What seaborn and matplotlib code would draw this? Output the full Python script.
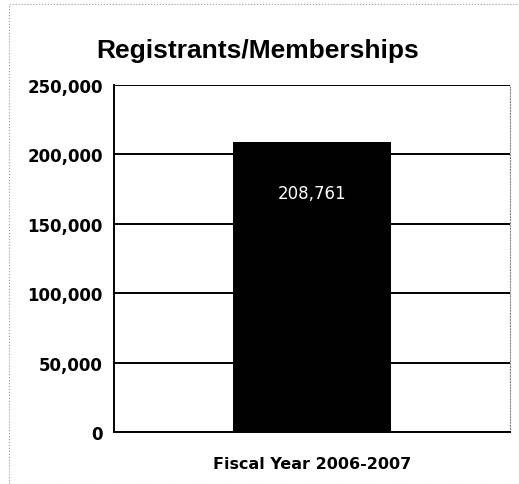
import matplotlib
matplotlib.use("Agg")
import matplotlib.pyplot as plt
import seaborn as sns
import pandas as pd
from matplotlib.patches import Rectangle
from matplotlib.ticker import FuncFormatter

categories = ["Fiscal Year 2006-2007"]
values = [208761]
bar_labels = ["208,761"]
yticks = [0, 50000, 100000, 150000, 200000, 250000]

df = pd.DataFrame({"category": categories, "value": values})

sns.set_style("white")
plt.rcParams["font.family"] = ["DejaVu Sans"]
plt.rcParams["text.color"] = "black"
plt.rcParams["xtick.color"] = "black"
plt.rcParams["ytick.color"] = "black"

fig = plt.figure(figsize=(5.19, 4.85), dpi=100)
ax = fig.add_axes([0.2197, 0.107, 0.763, 0.716])

sns.barplot(data=df, x="category", y="value", color="black", width=0.4,
            saturation=1, ax=ax, zorder=3, edgecolor="black", linewidth=0)

ax.set_ylim(0, 250000)
ax.set_yticks(yticks)
ax.yaxis.set_major_formatter(FuncFormatter(lambda v, p: f"{int(v):,}"))
for t in ax.get_yticklabels():
    t.set_fontweight("bold")
    t.set_fontsize(12)
    t.set_color("black")
ax.tick_params(axis="y", length=5, width=1.2, color="black", pad=3)
ax.tick_params(axis="x", length=0, pad=17)
for t in ax.get_xticklabels():
    t.set_fontweight("bold")
    t.set_fontsize(11.5)
    t.set_color("black")
ax.set_xlabel("")
ax.set_ylabel("")

ax.grid(axis="y", color="black", linewidth=1.4, zorder=0)
ax.set_axisbelow(True)

for side in ["left", "bottom"]:
    ax.spines[side].set_color("black")
    ax.spines[side].set_linewidth(1.4)
ax.spines["right"].set_color("#888888")
ax.spines["right"].set_linewidth(0.8)
ax.spines["right"].set_linestyle(":")
ax.spines["top"].set_visible(False)

for p, lab in zip(ax.patches, bar_labels):
    ax.text(p.get_x() + p.get_width() / 2, 172000, lab, color="white",
            ha="center", va="center", fontsize=12)

fig.text(0.497, 0.895, "Registrants/Memberships", ha="center", va="center",
         fontsize=19, fontweight="bold", color="black",
         family=["Liberation Sans", "DejaVu Sans"])

fig.patches.append(Rectangle((0.017, 0.0), 0.983, 0.99, transform=fig.transFigure,
                             fill=False, edgecolor="#999999", linewidth=0.8,
                             linestyle=":"))

fig.savefig("out.png", dpi=100)
